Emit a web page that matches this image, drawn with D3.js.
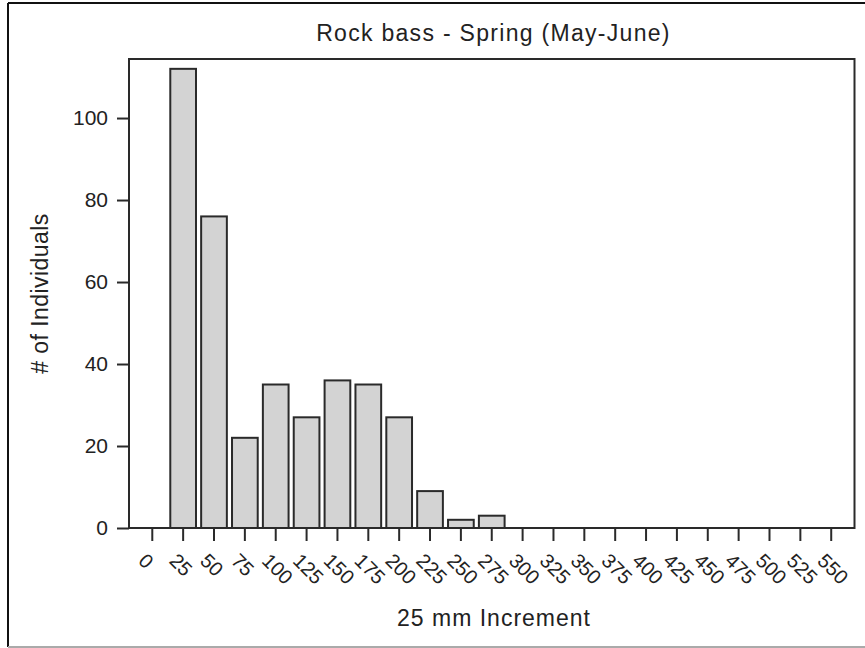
<!DOCTYPE html>
<html>
<head>
<meta charset="utf-8">
<script src="https://cdn.jsdelivr.net/npm/d3@7"></script>
<style>
  body { margin: 0; background: #fff; }
  text { font-family: "Liberation Sans", Arial, sans-serif; fill: #222; }
</style>
</head>
<body>
<svg id="chart"></svg>
<script>
var categories = ["0", "25", "50", "75", "100", "125", "150", "175", "200", "225", "250", "275",
    "300", "325", "350", "375", "400", "425", "450", "475", "500", "525", "550"];
var counts = [0, 112, 76, 22, 35, 27, 36, 35, 27, 9, 2, 3,
    0, 0, 0, 0, 0, 0, 0, 0, 0, 0, 0];
var yTicks = [0, 20, 40, 60, 80, 100];

var title = "Rock bass - Spring (May-June)";
var xTitle = "25 mm Increment";
var yTitle = "# of Individuals";

var svgWidth = 865;
var svgHeight = 648;
var plotLeft = 129, plotRight = 854.5, plotTop = 59, plotBottom = 528;

var svg = d3.select("#chart").attr("width", svgWidth).attr("height", svgHeight);

// outer border (left/top dark, bottom grey)
svg.append("line").attr("x1", 8).attr("x2", 8).attr("y1", 3).attr("y2", 647)
    .style("stroke", "#111").style("stroke-width", 2);
svg.append("line").attr("x1", 8).attr("x2", svgWidth).attr("y1", 3).attr("y2", 3)
    .style("stroke", "#111").style("stroke-width", 2);
svg.append("line").attr("x1", 8).attr("x2", svgWidth).attr("y1", 647).attr("y2", 647)
    .style("stroke", "#aaa").style("stroke-width", 2);

var x = d3.scaleBand()
    .domain(categories)
    .range([plotLeft, plotRight])
    .paddingInner(0.167)
    .paddingOuter(0.338);

var y = d3.scaleLinear()
    .domain([0, 114.4])
    .range([plotBottom, plotTop]);

// bars (empty classes are not drawn)
svg.append("g").selectAll("rect")
    .data(categories.map(function (c, i) { return { cat: c, value: counts[i] }; })
        .filter(function (d) { return d.value > 0; }))
    .join("rect")
    .attr("x", function (d) { return x(d.cat); })
    .attr("width", x.bandwidth())
    .attr("y", function (d) { return y(d.value); })
    .attr("height", function (d) { return y(0) - y(d.value); })
    .style("fill", "#d3d3d3")
    .style("stroke", "#2a2a2a")
    .style("stroke-width", 2);

// plot frame
svg.append("rect")
    .attr("x", plotLeft).attr("y", plotTop)
    .attr("width", plotRight - plotLeft).attr("height", plotBottom - plotTop)
    .style("fill", "none").style("stroke", "#2a2a2a").style("stroke-width", 2);

// y axis
var yAxis = svg.append("g")
    .attr("transform", "translate(" + plotLeft + ",0)")
    .call(d3.axisLeft(y).tickValues(yTicks).tickSize(12).tickPadding(9));
yAxis.select(".domain").remove();
yAxis.selectAll(".tick line").style("stroke", "#2a2a2a").style("stroke-width", 2);
yAxis.selectAll(".tick text")
    .style("font-size", "21px")
    .style("font-family", "Liberation Sans, Arial, sans-serif")
    .attr("fill", "#222");

// x axis
var xAxis = svg.append("g")
    .attr("transform", "translate(0," + plotBottom + ")")
    .call(d3.axisBottom(x).tickSize(13).tickFormat(""));
xAxis.select(".domain").remove();
xAxis.selectAll(".tick line").style("stroke", "#2a2a2a").style("stroke-width", 2);

svg.append("g").selectAll("text")
    .data(categories)
    .join("text")
    .attr("transform", function (d) {
        return "translate(" + (x(d) + x.bandwidth() / 2 - 10) + ",557) rotate(45)";
    })
    .attr("text-anchor", "start")
    .attr("dy", "0.35em")
    .style("font-size", "20px")
    .text(function (d) { return d; });

// titles
svg.append("text")
    .attr("x", 493.5).attr("y", 41)
    .attr("text-anchor", "middle")
    .style("font-size", "23px")
    .style("letter-spacing", "1.3px")
    .text(title);

svg.append("text")
    .attr("x", 494).attr("y", 626)
    .attr("text-anchor", "middle")
    .style("font-size", "23px")
    .style("letter-spacing", "1px")
    .text(xTitle);

svg.append("text")
    .attr("transform", "translate(48,293.5) rotate(-90)")
    .attr("text-anchor", "middle")
    .style("font-size", "23px")
    .style("letter-spacing", "0.45px")
    .text(yTitle);
</script>
</body>
</html>
